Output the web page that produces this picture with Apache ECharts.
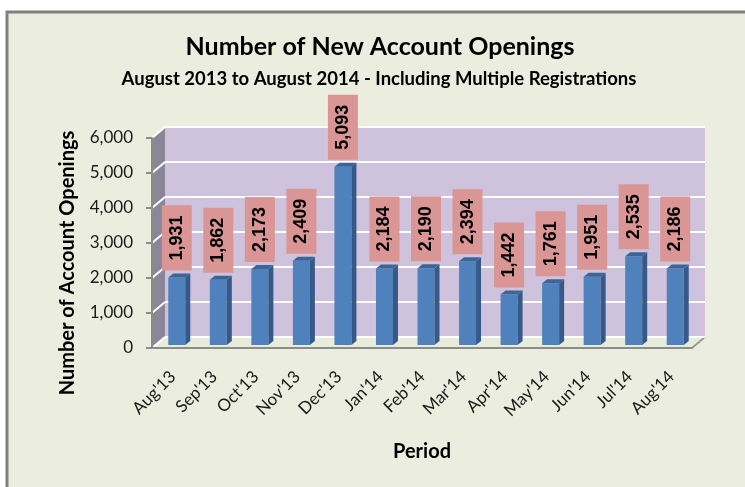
<!DOCTYPE html>
<html>
<head>
<meta charset="utf-8">
<script src="https://cdn.jsdelivr.net/npm/echarts@6/dist/echarts.min.js"></script>
<style>
html, body { margin: 0; padding: 0; background: #fff; }
#main { width: 745px; height: 487px; }
</style>
</head>
<body>
<div id="main"></div>
<script>
var periods = ["Aug'13", "Sep'13", "Oct'13", "Nov'13", "Dec'13", "Jan'14", "Feb'14",
    "Mar'14", "Apr'14", "May'14", "Jun'14", "Jul'14", "Aug'14"];
var openings = [1931, 1862, 2173, 2409, 5093, 2184, 2190, 2394, 1442, 1761, 1951, 2535, 2186];
var yTicks = [0, 1000, 2000, 3000, 4000, 5000, 6000];

var titleText = 'Number of New Account Openings';
var subtitleText = 'August 2013 to August 2014 - Including Multiple Registrations';
var yName = 'Number of Account Openings';
var xName = 'Period';

var FONT = 'Lato, "Open Sans", sans-serif';
// front plane of the 3d box, back wall is shifted by DEPTH
var FRONT = { left: 152, top: 138, width: 540, height: 210 };
var DEPTH = [13, -11];

function fmt(v) {
    return String(v).replace(/\B(?=(\d{3})+(?!\d))/g, ',');
}

var chart = echarts.init(document.getElementById('main'));

function renderBar(params, api) {
    var i = api.value(0), v = api.value(1);
    var base = api.coord([i, 0]);
    var top = api.coord([i, v]);
    var w = 17, dx = 5, dy = -4;
    var x0 = base[0] - w / 2 + 4, x1 = x0 + w;
    var yb = base[1] - 3, yt = top[1] - 3;
    return {
        type: 'group',
        children: [
            { type: 'rect', shape: { x: x0, y: yt, width: w, height: yb - yt }, style: { fill: '#4f81bd' } },
            { type: 'polygon', shape: { points: [[x1, yt], [x1 + dx, yt + dy], [x1 + dx, yb + dy], [x1, yb]] }, style: { fill: '#36598a' } },
            { type: 'polygon', shape: { points: [[x0, yt], [x0 + dx, yt + dy], [x1 + dx, yt + dy], [x1, yt]] }, style: { fill: '#3c6496' } },
            {
                type: 'text',
                x: x0 + w / 2,
                y: yt + dy - 3,
                rotation: Math.PI / 2,
                z2: 10,
                style: {
                    text: fmt(v),
                    fill: '#000',
                    fontFamily: 'Liberation Sans',
                    fontWeight: 'bold',
                    fontSize: 18,
                    align: 'left',
                    verticalAlign: 'middle',
                    backgroundColor: '#da9694',
                    padding: [6, 10],
                    lineHeight: 18
                }
            }
        ]
    };
}

var option = {
    animation: false,
    backgroundColor: '#fff',
    grid: [
        {
            left: FRONT.left + DEPTH[0], top: FRONT.top + DEPTH[1],
            width: FRONT.width, height: FRONT.height,
            show: true, backgroundColor: '#cec2dd', borderWidth: 0,
            outerBoundsMode: 'none'
        },
        {
            left: FRONT.left, top: FRONT.top,
            width: FRONT.width, height: FRONT.height,
            outerBoundsMode: 'none'
        }
    ],
    xAxis: [
        {
            gridIndex: 0, type: 'category', data: periods,
            axisLine: { show: false }, axisTick: { show: false }, axisLabel: { show: false }
        },
        {
            gridIndex: 1, type: 'category', data: periods, z: 5,
            axisLine: { lineStyle: { color: '#8c8c8c', width: 2 } },
            axisTick: { length: 6, lineStyle: { color: '#8c8c8c', width: 2 } },
            axisLabel: {
                rotate: 45, margin: 26, interval: 0,
                color: '#1a1a1a', fontFamily: FONT, fontSize: 17
            }
        }
    ],
    yAxis: [
        {
            gridIndex: 0, type: 'value', min: 0, max: 6000, interval: 1000,
            axisLine: { show: false }, axisTick: { show: false }, axisLabel: { show: false },
            splitLine: { lineStyle: { color: '#ffffff', width: 2 } }
        },
        {
            gridIndex: 1, type: 'value', min: 0, max: 6000, interval: 1000, z: 5,
            axisLine: { show: true, lineStyle: { color: '#8c8c8c', width: 2 } },
            axisTick: { show: true, length: 6, lineStyle: { color: '#8c8c8c', width: 2 } },
            splitLine: { show: false },
            axisLabel: {
                margin: 19, color: '#1a1a1a', fontFamily: FONT, fontSize: 17,
                formatter: function (v) { return fmt(v); }
            }
        }
    ],
    series: [
        {
            type: 'custom',
            xAxisIndex: 1, yAxisIndex: 1,
            renderItem: renderBar,
            z: 3,
            data: openings.map(function (v, i) { return [i, v]; })
        }
    ]
};
chart.setOption(option);

// walls, floor and texts, placed from the front axis scale
var yPix = yTicks.map(function (t) { return chart.convertToPixel({ yAxisIndex: 1 }, t); });
var L = FRONT.left, R = FRONT.left + FRONT.width;
var T = FRONT.top, B = FRONT.top + FRONT.height;
var dX = DEPTH[0], dY = DEPTH[1];

var graphics = [
    {
        type: 'rect', z: -10,
        shape: { x: 7, y: 12, width: 760, height: 490 },
        style: { fill: '#ebeedf', stroke: '#808080', lineWidth: 3 }
    },
    {
        type: 'polygon', z: -5,
        shape: { points: [[L, B], [R, B], [R + dX, B + dY], [L + dX, B + dY]] },
        style: { fill: '#e7ebd9' }
    },
    {
        type: 'polyline', z: -5,
        shape: { points: [[R, B], [R + dX, B + dY]] },
        style: { stroke: '#9a9a9a', lineWidth: 2, fill: null }
    },
    {
        type: 'polygon', z: -5,
        shape: { points: [[L, T], [L + dX, T + dY], [L + dX, B + dY], [L, B]] },
        style: { fill: '#8a8597' }
    }
];
yPix.forEach(function (y) {
    graphics.push({
        type: 'line', z: -4,
        shape: { x1: L, y1: y, x2: L + dX, y2: y + dY },
        style: { stroke: '#ffffff', lineWidth: 2 }
    });
});
graphics.push(
    {
        type: 'text', x: 380, y: 47, z: 10,
        style: { text: titleText, fontFamily: FONT, fontWeight: 'bold', fontSize: 25, fill: '#000', align: 'center', verticalAlign: 'middle' }
    },
    {
        type: 'text', x: 379, y: 79, z: 10,
        style: { text: subtitleText, fontFamily: FONT, fontWeight: 'bold', fontSize: 18.5, fill: '#000', align: 'center', verticalAlign: 'middle' }
    },
    {
        type: 'text', x: 68, y: 263, z: 10, rotation: Math.PI / 2,
        style: { text: yName, fontFamily: FONT, fontWeight: 'bold', fontSize: 20, fill: '#000', align: 'center', verticalAlign: 'middle' }
    },
    {
        type: 'text', x: 422, y: 452, z: 10,
        style: { text: xName, fontFamily: FONT, fontWeight: 'bold', fontSize: 20, fill: '#000', align: 'center', verticalAlign: 'middle' }
    }
);
chart.setOption({ graphic: graphics });
</script>
</body>
</html>
